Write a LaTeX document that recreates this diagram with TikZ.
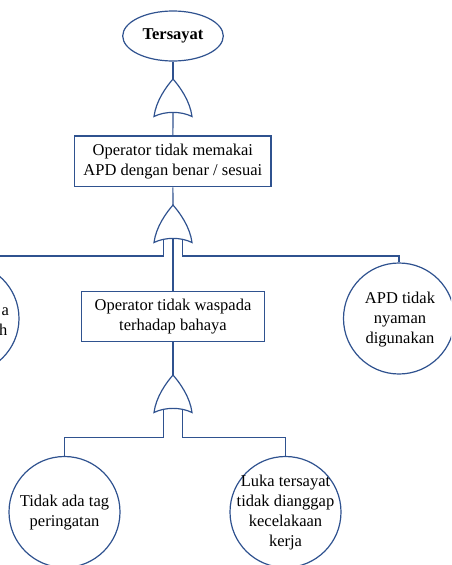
\documentclass[tikz,border=0pt]{standalone}
\usepackage{fontspec}
\setmainfont{Liberation Serif}
\usetikzlibrary{shapes.geometric}
\definecolor{linkblue}{RGB}{47,82,143}
\tikzset{
  base/.style={draw=linkblue, line width=1.2pt},
  wire/.style={draw=linkblue, line width=1.2pt},
  txt/.style={font=\fontsize{16.5}{20}\selectfont, align=center, text=black, inner sep=0pt},
  topev/.style={base, ellipse, minimum width=100.6pt, minimum height=50pt, inner sep=0pt,
                font=\fontsize{16.5}{20}\selectfont\bfseries},
  midev/.style={base, rectangle, inner sep=0pt, txt},
  basicev/.style={base, circle, minimum size=111pt, inner sep=0pt},
  orgate/.pic={
    \draw[base] (0,0) .. controls (-7,8) and (-17,22) .. (-19,37.5)
                .. controls (-8,32) and (8,32) .. (19,37.5)
                .. controls (17,22) and (7,8) .. (0,0) -- cycle;
    \coordinate (-top) at (0,0);
    \coordinate (-l) at (-9.7,35.2);
    \coordinate (-m) at (0,33.4);
    \coordinate (-r) at (9.5,35.2);
  }
}
\begin{document}
\begin{tikzpicture}[x=1pt,y=-1pt]
\useasboundingbox (0,0) rectangle (451,565);
\clip (0,0) rectangle (451,565);

% top event and intermediate events
\node[topev] (top) at (173,36) {Tersayat};
\node[midev, minimum width=196.3pt, minimum height=50.7pt] (apd) at (172.85,161.35)
  {Operator tidak memakai\\APD dengan benar / sesuai};
\node[midev, minimum width=182.6pt, minimum height=50pt] (waspada) at (173,316.7)
  {Operator tidak waspada\\terhadap bahaya};

% basic events
\node[basicev] (lelah) at (-36.5,318.5) {};
\node[txt] (lelaht) at (-34,319.5) {Fisik pekerja\\merasa lelah};
\node[basicev] (nyaman) at (399,318.5) {};
\node[txt] (nyamant) at (400,320) {APD tidak\\nyaman\\digunakan};
\node[basicev] (tag) at (64.5,512) {};
\node[txt] (tagt) at (64.5,513) {Tidak ada tag\\peringatan};
\node[basicev] (luka) at (285.5,512) {};
\node[txt] (lukat) at (285.5,512.5) {Luka tersayat\\tidak dianggap\\kecelakaan\\kerja};

% OR gates
\pic (g1) at (173,79) {orgate};
\pic (g2) at (173,205) {orgate};
\pic (g3) at (173,375) {orgate};

% connectors
\draw[wire] (g1-top) -- (top.south);
\draw[wire] (g1-m) -- (apd.north);
\draw[wire] (apd.south) -- (g2-top);
\draw[wire] (g2-l) -- ++(0,15.8) -| (lelah.north);
\draw[wire] (g2-m) -- (waspada.north);
\draw[wire] (g2-r) -- ++(0,15.8) -| (nyaman.north);
\draw[wire] (waspada.south) -- (g3-top);
\draw[wire] (g3-l) -- ++(0,27.1) -| (tag.north);
\draw[wire] (g3-r) -- ++(0,27.1) -| (luka.north);
\end{tikzpicture}
\end{document}
